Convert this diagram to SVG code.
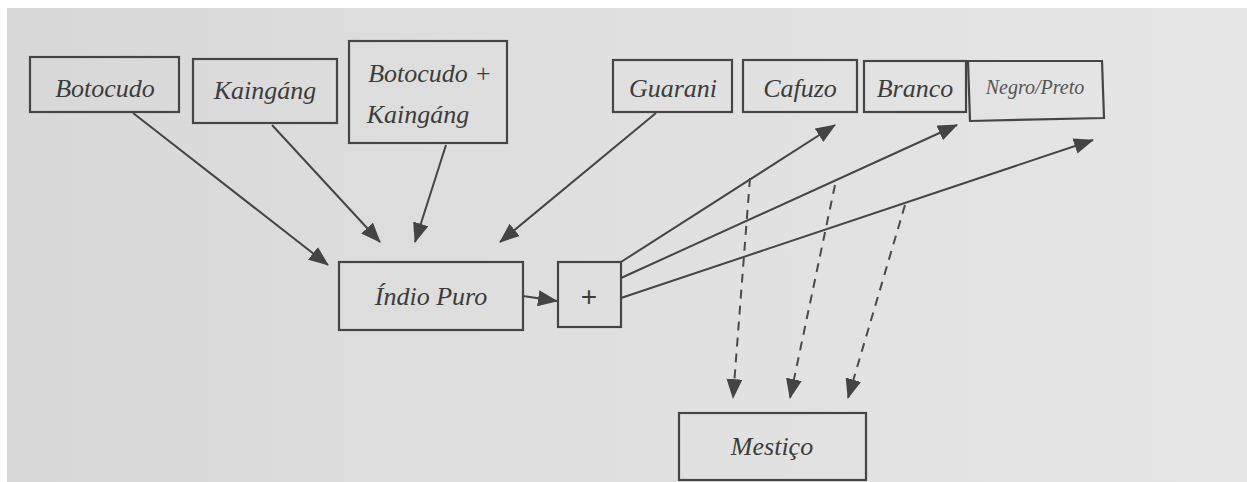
<svg xmlns="http://www.w3.org/2000/svg" width="1247" height="482" viewBox="0 0 1247 482">
<style>
.box{fill:none;stroke:#454545;stroke-width:2.2}
.lbl{font-family:"Liberation Serif",serif;font-style:italic;font-size:26px;fill:#3c3c3c;text-anchor:middle}
.ln{fill:none;stroke:#454545;stroke-width:2}
.dash{fill:none;stroke:#4a4a4a;stroke-width:2;stroke-dasharray:9,7}
</style>
<defs>
<linearGradient id="bg" x1="0" y1="0" x2="1" y2="0">
<stop offset="0" stop-color="#d8d8d8"/>
<stop offset="0.5" stop-color="#e0e0e0"/>
<stop offset="1" stop-color="#e6e6e6"/>
</linearGradient>
<marker id="ah" markerWidth="20" markerHeight="16" refX="19" refY="8" orient="auto" markerUnits="userSpaceOnUse">
<path d="M0,0 L20,8 L0,16 Z" fill="#444"/>
</marker>
</defs>
<rect width="1247" height="482" fill="#ffffff"/>
<rect x="7" y="8" width="1240" height="474" fill="url(#bg)"/>
<g id="connectors">
<line class="ln" x1="133" y1="113" x2="328" y2="265" marker-end="url(#ah)"/>
<line class="ln" x1="272" y1="125" x2="380" y2="242" marker-end="url(#ah)"/>
<line class="ln" x1="446" y1="145" x2="415" y2="242" marker-end="url(#ah)"/>
<line class="ln" x1="656" y1="113" x2="500" y2="242" marker-end="url(#ah)"/>
<line class="ln" x1="523" y1="296" x2="557" y2="301" marker-end="url(#ah)"/>
<line class="ln" x1="621" y1="262" x2="835" y2="125" marker-end="url(#ah)"/>
<line class="ln" x1="621" y1="278" x2="957" y2="125" marker-end="url(#ah)"/>
<line class="ln" x1="621" y1="298" x2="1093" y2="140" marker-end="url(#ah)"/>
<line class="dash" x1="750" y1="178" x2="733" y2="398" marker-end="url(#ah)"/>
<line class="dash" x1="835" y1="185" x2="790" y2="398" marker-end="url(#ah)"/>
<line class="dash" x1="905" y1="205" x2="848" y2="398" marker-end="url(#ah)"/>
</g>
<g id="botocudo"><rect class="box" x="30" y="57" width="149" height="55"/><text class="lbl" x="105" y="97">Botocudo</text></g>
<g id="kaingang"><rect class="box" x="193" y="59" width="144" height="64"/><text class="lbl" x="265" y="99">Kaingáng</text></g>
<g id="botocudo-kaingang"><rect class="box" x="349" y="41" width="158" height="102"/><text class="lbl" x="430" y="82">Botocudo +</text><text class="lbl" x="418" y="123">Kaingáng</text></g>
<g id="guarani"><rect class="box" x="613" y="60" width="119" height="52"/><text class="lbl" x="673" y="97">Guarani</text></g>
<g id="cafuzo"><rect class="box" x="743" y="60" width="114" height="52"/><text class="lbl" x="800" y="97">Cafuzo</text></g>
<g id="branco"><rect class="box" x="864" y="61" width="102" height="51"/><text class="lbl" x="915" y="97">Branco</text></g>
<g id="negro-preto"><path class="box" d="M968,61 L1102,61 L1104,118 L970,121 Z" stroke="#555"/><text class="lbl" x="1035" y="94" style="font-size:20px;fill:#555">Negro/Preto</text></g>
<g id="indio-puro"><rect class="box" x="339" y="262" width="184" height="68"/><text class="lbl" x="431" y="305">Índio Puro</text></g>
<g id="plus"><rect class="box" x="558" y="262" width="63" height="65"/><text x="589" y="306" style="font-family:'Liberation Sans',sans-serif;font-size:28px;fill:#3c3c3c;text-anchor:middle">+</text></g>
<g id="mestico"><rect class="box" x="679" y="413" width="187" height="67"/><text class="lbl" x="772" y="455">Mestiço</text></g>
</svg>
